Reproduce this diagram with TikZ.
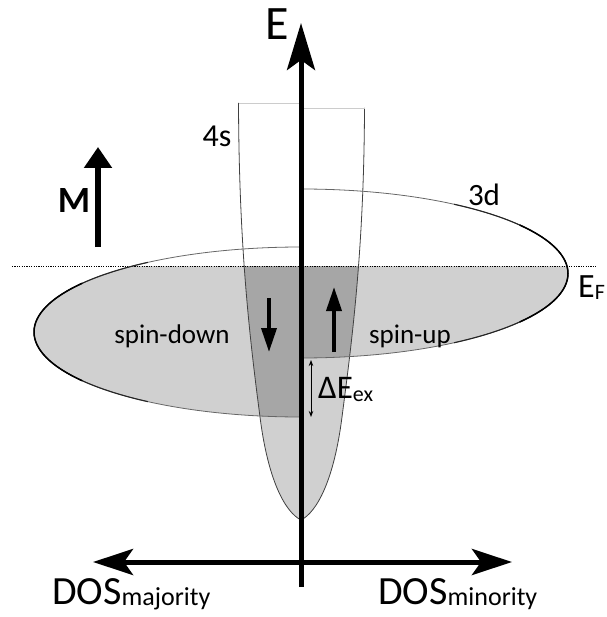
\documentclass[tikz,border=0pt]{standalone}
\usepackage{fontspec}
\setmainfont{Carlito}
\usetikzlibrary{arrows.meta}
\definecolor{lightfill}{HTML}{D0D0D0}
\definecolor{darkfill}{HTML}{A6A6A6}
\begin{document}
\begin{tikzpicture}[x=1pt,y=-1pt,
  lbl/.style={inner sep=0pt, anchor=base},
  lblw/.style={inner sep=0pt, anchor=base west},
  thinline/.style={line width=0.8pt, draw=black!60},
  axis/.style={line width=5pt}]
\useasboundingbox (0,0) rectangle (606,617);
\def\fourS{(238.5,103) .. controls (239,250) and (250,340) .. (260,417) .. controls (268,480) and (285,512) .. (301,520) .. controls (317,512) and (334,480) .. (342,417) .. controls (352,340) and (364,250) .. (364.5,108)}
% light fills below E_F
\begin{scope}
  \clip (0,266) rectangle (301,617);
  \fill[lightfill] (301,332) ellipse [x radius=267, y radius=85];
\end{scope}
\begin{scope}
  \clip (301,266) rectangle (606,617);
  \fill[lightfill] (301,273.5) ellipse [x radius=267, y radius=84.5];
\end{scope}
\begin{scope}
  \clip (0,266) rectangle (606,617);
  \fill[lightfill] \fourS;
\end{scope}
% dark overlap
\begin{scope}
  \clip \fourS;
  \begin{scope}
    \clip (0,266) rectangle (301,617);
    \fill[darkfill] (301,332) ellipse [x radius=267, y radius=85];
  \end{scope}
  \begin{scope}
    \clip (301,266) rectangle (606,617);
    \fill[darkfill] (301,273.5) ellipse [x radius=267, y radius=84.5];
  \end{scope}
\end{scope}
% Fermi level
\draw[line width=0.9pt, dash pattern=on 1.2pt off 1.2pt] (12,266) -- (597,266);
% 4s band outline
\draw[line width=0.8pt, draw=black!75] \fourS;
\draw[line width=0.7pt, draw=black!20] (238.5,103) -- (301,103) (301,108) -- (364.5,108);
% 3d outlines
\draw[thinline] (301,247) arc[start angle=-90, end angle=-270, x radius=267, y radius=85];
\draw[line width=1.1pt, draw=black!85] (301,332) ++(-125:267 and 85) arc[start angle=-125, end angle=-235, x radius=267, y radius=85];
\draw[line width=1.5pt] (301,332) ++(-145:267 and 85) arc[start angle=-145, end angle=-215, x radius=267, y radius=85];
\draw[thinline] (301,189) arc[start angle=-90, end angle=90, x radius=267, y radius=84.5];
\draw[line width=1.1pt, draw=black!85] (301,273.5) ++(-55:267 and 84.5) arc[start angle=-55, end angle=55, x radius=267, y radius=84.5];
\draw[line width=1.5pt] (301,273.5) ++(-35:267 and 84.5) arc[start angle=-35, end angle=35, x radius=267, y radius=84.5];
% axes
\draw[axis, -{Stealth[length=47pt,width=28pt,inset=10pt]}] (301,587) -- (301,23);
\draw[axis, {Stealth[length=40pt,width=26pt,inset=9pt]}-{Stealth[length=40pt,width=26pt,inset=9pt]}] (93,562) -- (512,562);
% M arrow
\draw[line width=6.5pt, -{Triangle[length=21pt,width=27pt]}] (98,247) -- (98,147);
% spin arrows
\draw[line width=3.7pt, -{Triangle[length=24pt,width=15pt]}] (269,298) -- (269,352);
\draw[line width=3.7pt, -{Triangle[length=24pt,width=15pt]}] (334,352) -- (334,287);
% exchange splitting
\draw[line width=0.9pt, {Stealth[length=6pt,width=4.5pt]}-{Stealth[length=6pt,width=4.5pt]}] (311,360) -- (311,417);
% labels
\node[lbl, font=\fontsize{48}{48}\selectfont] (E) at (277,40) {E};
\node[lbl, font=\fontsize{32}{32}\selectfont] (s4) at (217,147) {4s};
\node[lbl, font=\fontsize{31}{31}\selectfont] (d3) at (484,206) {3d};
\node[lbl, font=\fontsize{37}{37}\selectfont\bfseries] (M) at (74,213) {M};
\node[lbl, font=\fontsize{27}{27}\selectfont] (sd) at (172,343) {spin-down};
\node[lbl, font=\fontsize{27}{27}\selectfont] (su) at (410,343) {spin-up};
\node[lblw, font=\fontsize{34}{34}\selectfont] (EF) at (578,297) {E\raisebox{-2pt}{\fontsize{22}{22}\selectfont F}};
\node[lblw, font=\fontsize{33}{33}\selectfont] (dE) at (318,398) {ΔE\raisebox{-3pt}{\fontsize{22}{22}\selectfont ex}};
\node[lblw, font=\fontsize{40}{40}\selectfont] (dmaj) at (52,604) {DOS\raisebox{-1pt}{\fontsize{26}{26}\selectfont majority}};
\node[lblw, font=\fontsize{40}{40}\selectfont] (dmin) at (378,604) {DOS\raisebox{-1pt}{\fontsize{26}{26}\selectfont minority}};
\end{tikzpicture}
\end{document}
